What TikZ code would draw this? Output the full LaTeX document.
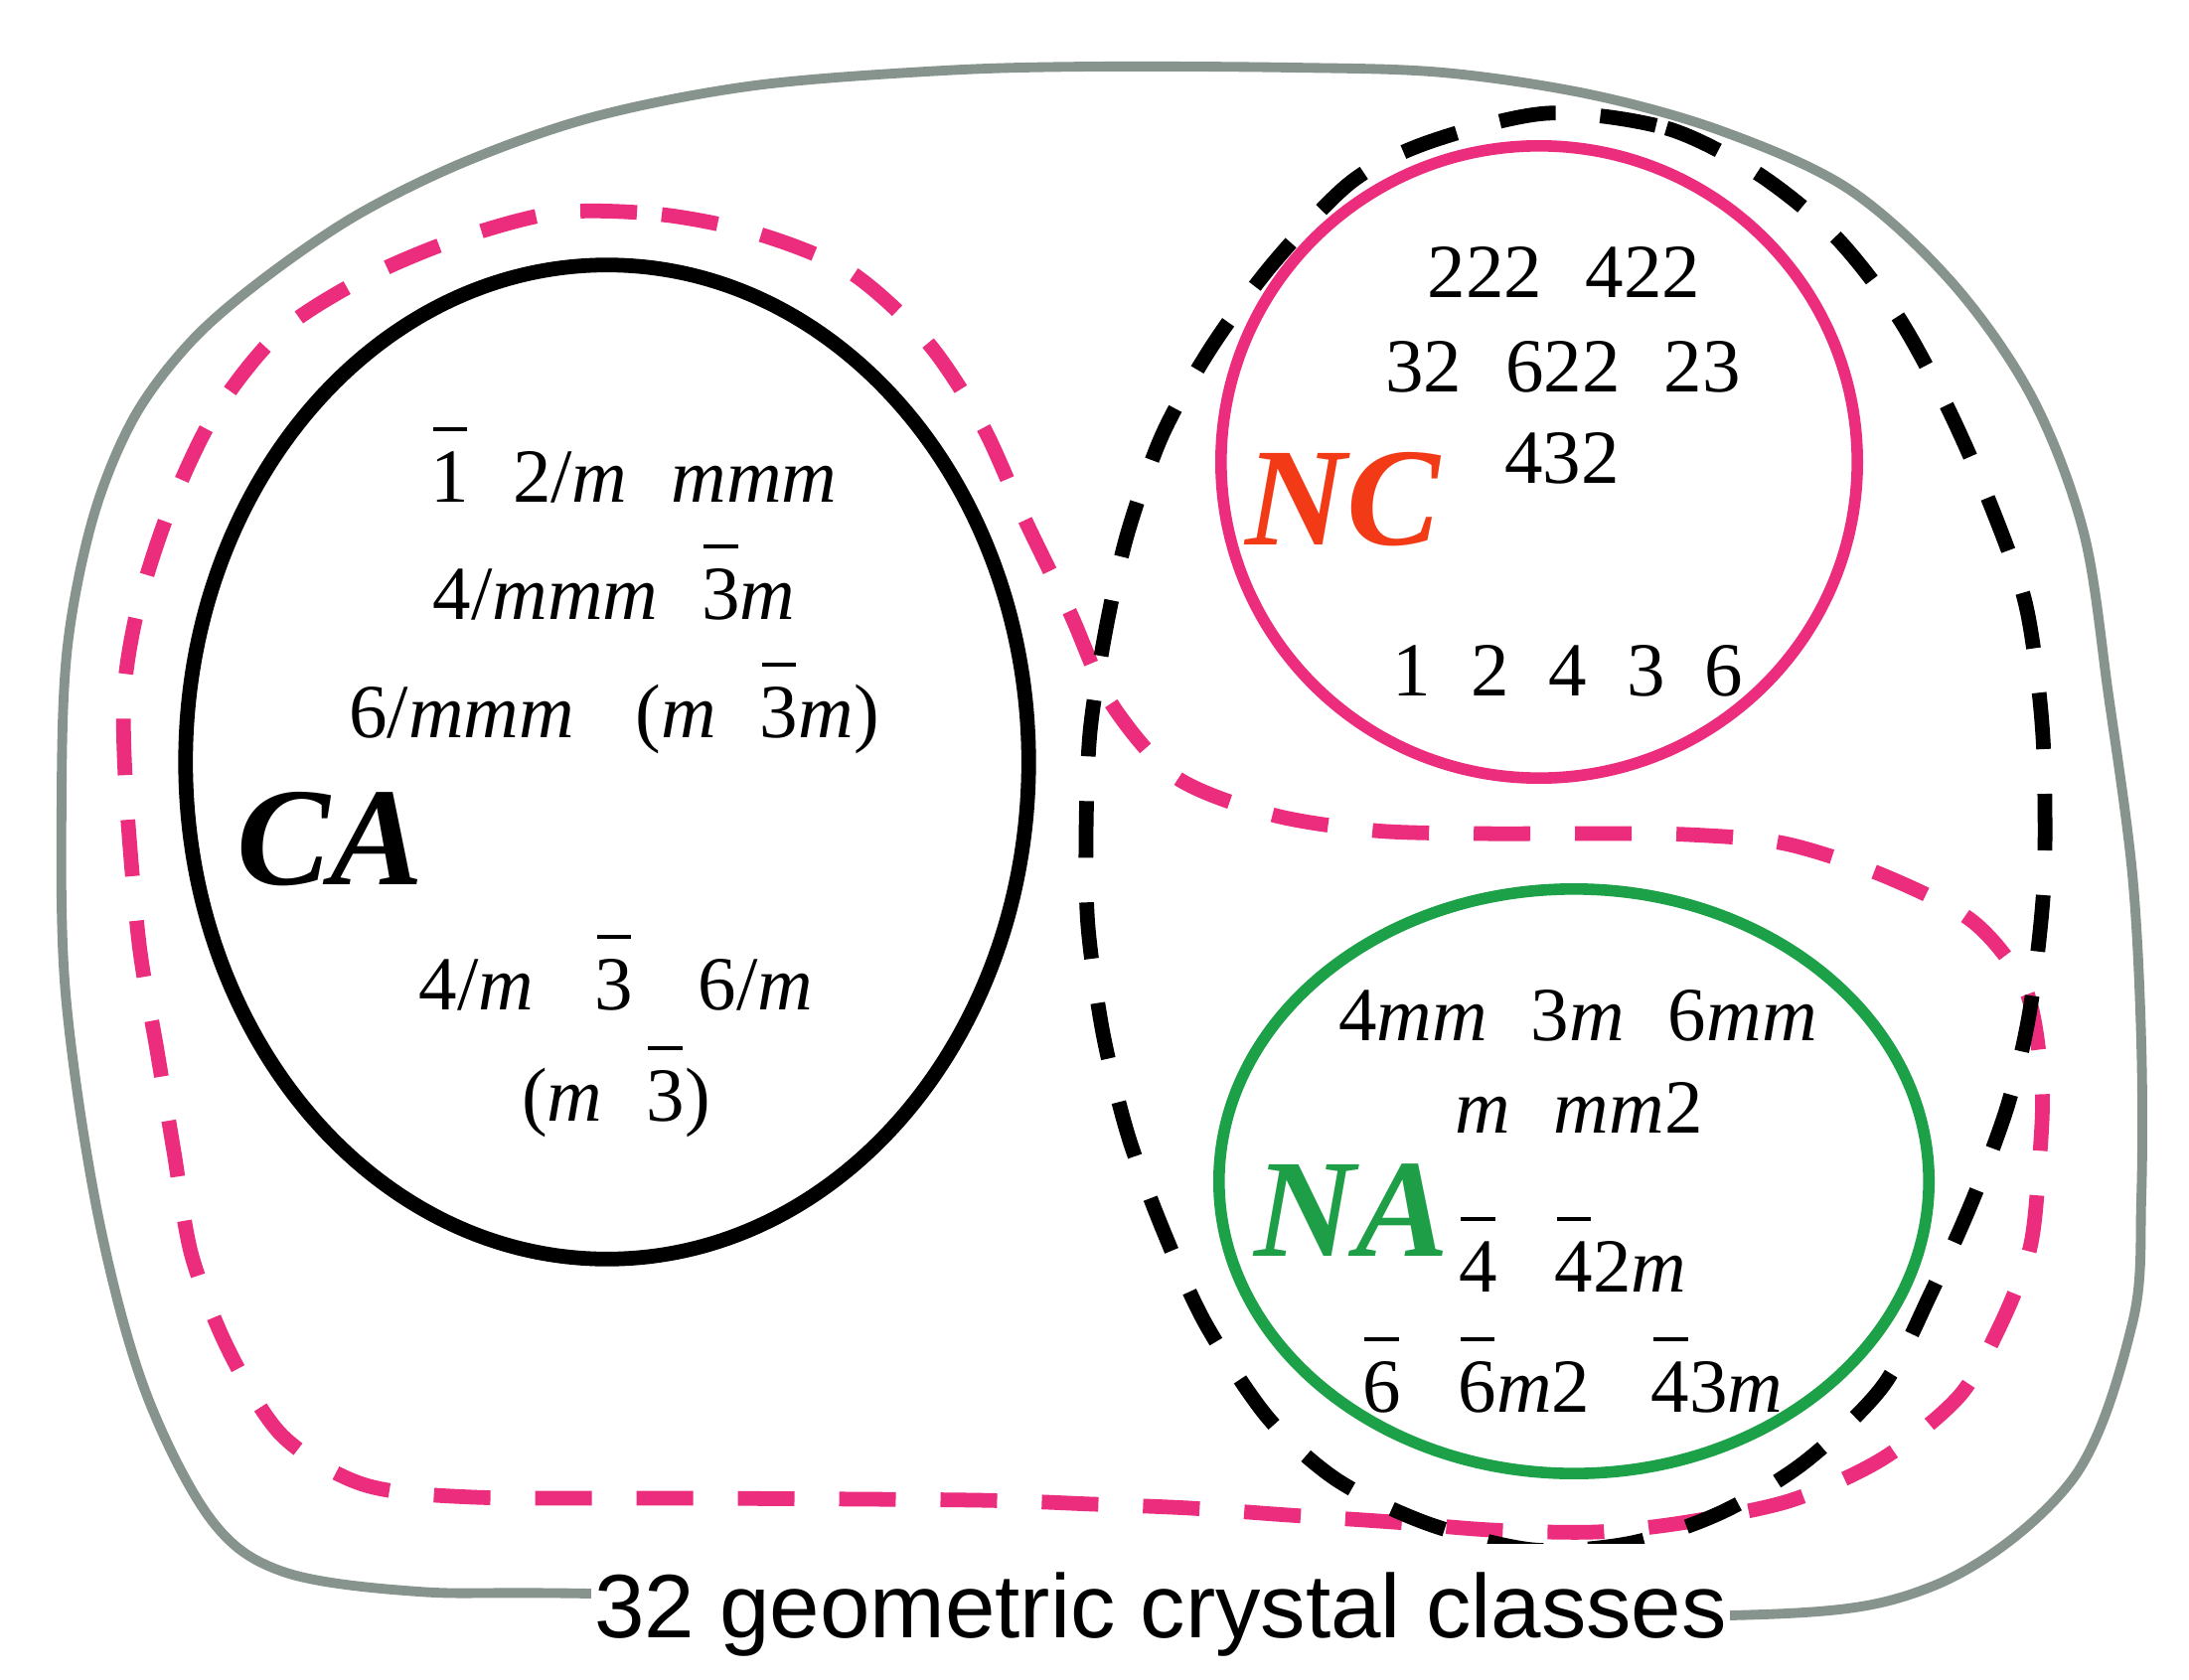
\documentclass[tikz,border=0pt]{standalone}
\usepackage{fontspec}
\setmainfont{Liberation Serif}
\newfontfamily\arialfont{Liberation Sans}
\definecolor{grayline}{RGB}{135,148,142}
\definecolor{pinkline}{RGB}{236,45,125}
\definecolor{greenline}{RGB}{28,160,72}
\definecolor{ncred}{RGB}{242,58,22}
\definecolor{nagreen}{RGB}{30,158,70}
\newcommand{\ob}[1]{\leavevmode\setbox0=\hbox{#1}\rlap{\hbox to\wd0{\hss\rule[0.92em]{0.9\wd0}{0.05em}\hss}}\box0\relax}
\newcommand{\itm}{\textit{m}}
\newcommand{\gp}{\hspace{0.57em}}
\begin{document}
\begin{tikzpicture}[x=0.01cm,y=-0.01cm,
  lbl/.style={font=\fontsize{21.9}{26}\selectfont, inner sep=0pt, anchor=base},
  big/.style={font=\fontsize{40}{48}\selectfont\bfseries\itshape, inner sep=0pt, anchor=base west},
  dashline/.style={line width=4.2pt, dash pattern=on 16.2pt off 12.8pt, line join=round},
  solidring/.style={line width=3.3pt}]
\useasboundingbox[fill=white] (0,0) rectangle (2203,1691);

% outer gray boundary
\draw[grayline, line width=2.8pt] plot[smooth cycle, tension=0.55] coordinates {
 (596,1604) (421,1602) (285,1582) (212,1529) (145,1397) (98,1220) (66,1000)
 (62,800) (68,650) (94,520) (135,420) (193,343) (266,280) (360,216) (470,162)
 (600,117) (760,86) (950,71) (1100,67) (1300,68) (1452,73) (1600,95) (1733,132)
 (1860,190) (1965,285) (2045,400) (2097,536) (2122,700) (2146,880) (2155,1050)
 (2155,1206) (2146,1332) (2085,1490) (1944,1597) (1740,1626) (1200,1615)};

% pink dashed region (CA + NA)
\draw[dashline, pinkline] plot[smooth cycle, tension=0.5] coordinates {
 (561,214) (666,216) (765,236) (856,274) (933,344) (989,429) (1031,522)
 (1077,617) (1117,706) (1183,782) (1280,820) (1383,836) (1487,839) (1592,839)
 (1698,840) (1796,849) (1895,881) (1986,928) (2039,997) (2055,1092)
 (2052,1174) (2043,1256) (2014,1332) (1972,1405) (1895,1468) (1803,1510)
 (1698,1532) (1606,1542) (1501,1540) (1402,1532) (1297,1525) (1198,1518)
 (1100,1514) (982,1510) (701,1508) (477,1507) (365,1494) (284,1445)
 (231,1361) (193,1264) (175,1159) (158,1057) (140,950) (127,800) (125,696)
 (140,607) (172,509) (217,415) (281,335) (365,281) (459,241)};

% black dashed region (NC + NA)
\draw[dashline, black] plot[smooth cycle, tension=0.5] coordinates {
 (1557,114) (1677,129) (1768,174) (1846,237) (1909,317) (1958,406) (2000,500)
 (2036,598) (2050,679) (2057,763) (2057,890) (2043,1016) (2021,1111)
 (1986,1206) (1944,1300) (1895,1395) (1817,1471) (1733,1522) (1642,1553)
 (1543,1560) (1438,1534) (1346,1490) (1276,1427) (1213,1332) (1170,1237)
 (1135,1142) (1110,1040) (1095,933) (1093,840) (1097,737) (1113,633)
 (1135,536) (1170,437) (1220,348) (1283,263) (1360,183) (1438,143)};

% CA ellipse
\draw[black, line width=4.2pt] (611,767) ellipse [x radius=4.24cm, y radius=5.0cm];
% NC circle
\draw[pinkline, solidring] (1549,465) ellipse [x radius=3.2cm, y radius=3.18cm];
% NA circle
\draw[greenline, solidring] (1584,1189) ellipse [x radius=3.57cm, y radius=2.94cm];

% CA texts
\node[lbl] (ca1) at (638,505) {\ob{1}\gp 2/\itm\gp\itm\itm\itm};
\node[lbl] (ca2) at (618,623) {4/\itm\itm\itm\gp\ob{3}\itm};
\node[lbl] (ca3) at (618,742) {6/\itm\itm\itm\hspace{0.8em}(\itm\gp\ob{3}\itm)};
\node[big] (ca) at (238,890) {CA};
\node[lbl] (ca4) at (620,1016) {4/\itm\hspace{0.8em}\ob{3}\hspace{0.85em}6/\itm};
\node[lbl] (ca5) at (620,1128) {(\itm\gp\ob{3})};

% NC texts
\node[lbl] (nc1) at (1574,299) {222\gp 422};
\node[lbl] (nc2) at (1573,394) {32\gp 622\gp 23};
\node[lbl] (nc3) at (1572,486) {432};
\node[big, text=ncred] (nc) at (1253,548) {NC};
\node[lbl] (nc4) at (1578,700) {1\hspace{0.52em}2\hspace{0.52em}4\hspace{0.52em}3\hspace{0.52em}6};

% NA texts
\node[lbl] (na1) at (1588,1047) {4\itm\itm\gp 3\itm\gp 6\itm\itm};
\node[lbl] (na2) at (1589,1140) {\itm\gp\itm\itm 2};
\node[big, text=nagreen] (na) at (1262,1264) {NA};
\node[lbl] (na3) at (1583,1300) {\ob{4}\hspace{0.75em}\ob{4}2\itm};
\node[lbl] (na4) at (1583,1421) {\ob{6}\hspace{0.75em}\ob{6}\itm 2\hspace{0.8em}\ob{4}3\itm};

% title
\node[font=\arialfont\fontsize{25.8}{30}\selectfont, fill=white, inner xsep=1pt, inner ysep=8pt, anchor=base] (title) at (1168,1648) {32 geometric crystal classes};
\end{tikzpicture}
\end{document}
